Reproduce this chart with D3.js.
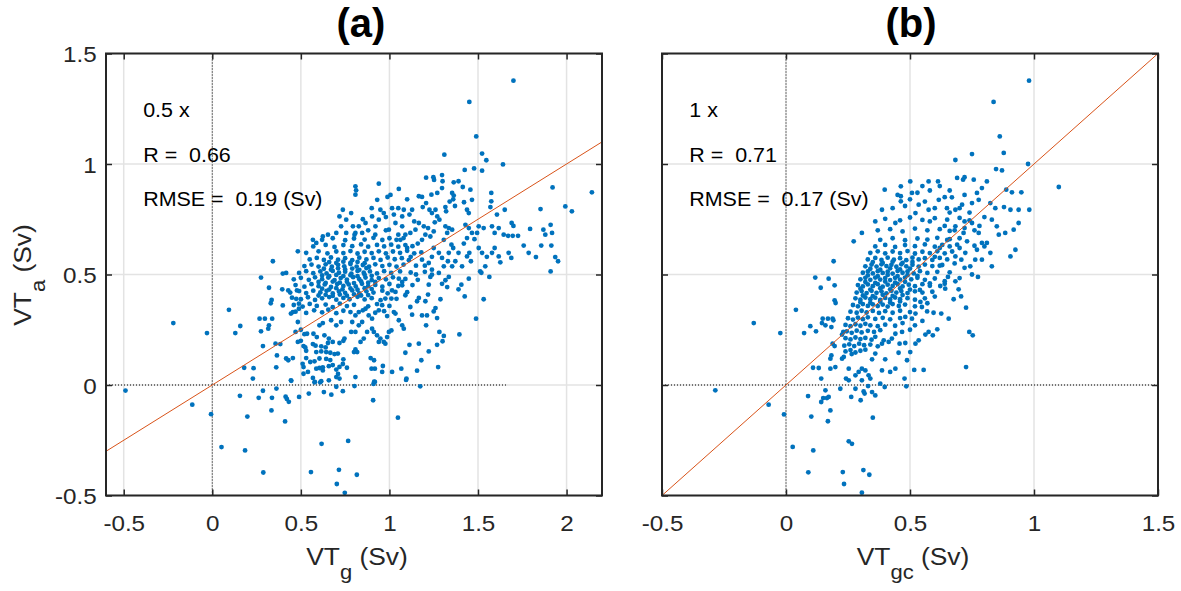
<!DOCTYPE html>
<html><head><meta charset="utf-8">
<script src="https://cdn.jsdelivr.net/npm/d3@7"></script>
<style>body{margin:0;background:#fff}</style>
</head><body><svg id="c" width="1181" height="591"></svg>
<script>
// ---------------- data ----------------
const yTicks = [-0.5, 0, 0.5, 1, 1.5];
const xTicksA = [-0.5, 0, 0.5, 1, 1.5, 2];
const xTicksB = [-0.5, 0, 0.5, 1, 1.5];
const xDomainA = [-0.6, 2.2];
const xDomainB = [-0.5, 1.5];
const yDomain = [-0.5, 1.5];
const fitSlopeA = 0.5;
const fitSlopeB = 1;
const zeroLineExtentA = [-0.6, 1.66];
const zeroLineExtentB = [-0.5, 1.5];
const statsA = ["0.5 x", "R =  0.66", "RMSE =  0.19 (Sv)"];
const statsB = ["1 x", "R =  0.71", "RMSE =  0.17 (Sv)"];
const titles = ["(a)", "(b)"];

// VT_g (x) vs VT_a (y)
const pointsA = [
[-0.49,-0.025],[-0.22,0.28],[-0.03,0.235],[-0.113,-0.089],[-0.007,-0.132],[0.052,-0.281],[0.094,0.34],[0.158,0.267],[0.13,0.235],[0.185,-0.296],[0.198,-0.143],[0.156,-0.049],[0.18,0.078],[0.233,0.076],[0.229,0.029],[0.288,-0.396],[0.262,-0.058],[0.286,-0.026],[0.334,-0.115],[0.337,-0.058],[0.362,-0.016],[0.411,-0.165],[0.414,-0.053],[0.421,-0.063],[0.432,-0.076],[0.49,-0.054],[0.545,-0.039],[0.446,0.019],[0.557,-0.394],[0.617,-0.266],[0.767,-0.253],[0.715,-0.384],[0.703,-0.448],[0.748,-0.488],[0.816,-0.406],[0.63,-0.032],[0.672,-0.044],[0.70,-0.008],[0.737,-0.028],[0.803,-0.005],[0.908,-0.069],[1.048,-0.148],[1.174,-0.006],[1.094,0.023],[0.91,0.005],[0.914,0.015],[0.577,0.012],[0.609,0.012],
[0.275,0.486],[0.32,0.44],[0.335,0.385],[0.33,0.37],[0.267,0.30],[0.297,0.30],[0.338,0.30],[0.32,0.27],[0.316,0.255],[0.275,0.243],[0.286,0.176],[0.357,0.187],[0.384,0.185],[0.365,0.134],[0.361,0.08],[0.417,0.12],[0.429,0.112],[0.455,0.122],[0.444,0.021],[0.398,0.504],[0.395,0.433],[0.429,0.428],[0.398,0.36],[0.444,0.323],[0.455,0.33],[0.478,0.428],[0.474,0.39],[0.489,0.368],[0.489,0.345],[0.483,0.285],[0.47,0.24],[0.50,0.25],[0.52,0.23],[0.535,0.232],[0.483,0.195],[0.50,0.20],[0.515,0.176],[0.525,0.17],[0.53,0.155],[0.51,0.096],[0.515,0.081],[0.54,0.059],[0.515,0.051],[0.579,0.014],[0.615,0.017],[0.658,0.021],[0.70,0.036],[0.718,0.029],[0.568,0.032],[0.587,0.074],[0.605,0.077],[0.624,0.066],[0.53,0.122],[0.553,0.104],[0.577,0.107],[0.587,0.149],[0.615,0.152],[0.643,0.149],[0.666,0.146],[0.69,0.14],[0.709,0.142],[0.624,0.08],[0.658,0.085],[0.68,0.09],[0.718,0.082],[0.737,0.095],[0.76,0.078],[0.605,0.12],[0.643,0.118],[0.666,0.113],[0.568,0.185],[0.583,0.178],[0.615,0.175],[0.64,0.17],[0.653,0.19],[0.68,0.195],[0.718,0.19],[0.74,0.2],[0.746,0.21],[0.74,0.116],[0.70,0.07],[0.71,0.05],[0.80,0.149],[0.808,0.036],[0.784,0.24],[0.727,0.285],[0.70,0.27],[0.671,0.293],[0.624,0.28],[0.605,0.27],[0.571,0.232],[0.59,0.217],[0.633,0.225],[0.658,0.21],
[1.532,0.388],[1.489,0.30],[1.395,0.229],[1.448,0.481],[1.406,0.454],[1.39,0.433],[1.425,0.401],[1.564,0.489],[1.519,0.508],[1.335,0.489],[1.316,0.474],[1.297,0.458],[1.326,0.443],[1.288,0.388],[1.269,0.303],[1.282,0.24],[1.307,0.222],[1.30,0.198],[1.269,0.182],[1.275,0.081],[1.231,0.489],[1.24,0.499],[1.222,0.454],[1.218,0.409],[1.203,0.379],[1.166,0.394],[1.156,0.379],[1.184,0.315],[1.212,0.315],[1.25,0.333],[1.26,0.348],[1.207,0.27],[1.222,0.152],[1.166,0.187],[1.113,0.182],[1.09,0.146],[1.18,0.112],[1.156,0.065],[1.096,0.029],[1.067,0.074],[1.015,0.059],[0.959,0.059],[0.963,0.086],[0.918,0.074],[0.899,0.074],[0.894,0.122],[0.913,0.112],[0.918,0.014],[1.118,0.353],[1.128,0.318],[1.072,0.27],[1.081,0.255],[0.997,0.24],[1.011,0.247],[0.987,0.312],[1.025,0.33],[1.034,0.323],[1.053,0.293],[1.034,0.421],[1.09,0.406],[1.072,0.451],[1.072,0.466],[1.053,0.481],[1.015,0.428],[1.011,0.391],[0.977,0.391],[0.959,0.361],[0.94,0.338],[0.902,0.30],[0.883,0.315],[0.865,0.345],[0.827,0.33],[0.808,0.315],[0.79,0.285],[0.827,0.27],[0.846,0.285],[0.808,0.24],[0.818,0.149],[0.808,0.161],[0.837,0.195],[0.855,0.21],[0.874,0.24],[0.902,0.255],[0.912,0.24],[0.93,0.225],[0.949,0.21],[0.977,0.187],[0.987,0.217],[0.968,0.195],[0.94,0.195],
[1.70,1.377],[1.451,1.281],[1.49,1.125],[1.31,1.042],[1.523,1.047],[1.547,1.017],[1.641,0.998],[1.425,0.973],[1.478,0.98],[1.523,0.97],[1.207,0.938],[1.248,0.94],[1.252,0.928],[1.297,0.95],[1.30,0.922],[1.363,0.917],[1.39,0.922],[1.921,0.894],[2.143,0.872],[1.053,0.887],[0.94,0.911],[0.808,0.899],[0.812,0.881],[0.808,0.861],[1.414,0.896],[1.457,0.884],[1.575,0.869],[1.575,0.831],[1.354,0.869],[1.363,0.857],[1.297,0.891],[1.27,0.869],[1.166,0.854],[1.184,0.851],[1.237,0.861],[0.989,0.851],[1.006,0.86],[0.931,0.838],[1.466,0.838],[1.421,0.827],[1.993,0.808],[2.03,0.786],[1.853,0.796],[1.651,0.793],[1.607,0.771],[1.57,0.805],[1.438,0.793],[1.448,0.778],[1.36,0.84],[1.34,0.83],[1.37,0.81],[1.26,0.793],[1.24,0.778],[1.27,0.763],[1.282,0.748],[1.256,0.736],[1.316,0.805],[1.32,0.786],[1.207,0.823],[1.188,0.805],[1.226,0.793],[1.128,0.793],[1.113,0.771],[1.081,0.793],[1.072,0.763],[1.015,0.80],[1.025,0.771],[0.949,0.793],[0.968,0.778],[0.94,0.748],[0.902,0.763],[0.865,0.733],[0.827,0.718],[0.808,0.688],[0.846,0.688],[0.921,0.718],[0.997,0.703],[1.034,0.733],[1.072,0.718],[1.09,0.68],[1.062,0.657],[1.118,0.688],[1.147,0.703],[1.166,0.733],[1.194,0.718],[1.218,0.71],[1.203,0.68],[1.231,0.672],[1.184,0.657],[1.25,0.695],[1.316,0.718],[1.335,0.71],[1.354,0.703],[1.326,0.688],[1.307,0.657],[1.429,0.725],[1.448,0.71],[1.466,0.688],[1.438,0.665],[1.495,0.688],[1.504,0.718],[1.532,0.71],[1.579,0.718],[1.594,0.688],[1.617,0.71],[1.645,0.68],[1.67,0.675],[1.696,0.675],[1.726,0.675],[1.69,0.733],[1.70,0.72],[1.794,0.706],[1.869,0.703],[1.88,0.68],[1.91,0.725],[1.918,0.688],[1.758,0.631],[1.786,0.598],[1.827,0.579],[1.857,0.631],[1.914,0.631],[1.936,0.579],[1.952,0.56],[1.91,0.514],[1.617,0.582],[1.626,0.555],[1.673,0.598],[1.688,0.575],[1.579,0.598],[1.594,0.62],[1.504,0.62],[1.523,0.598],[1.512,0.514],[1.541,0.537],[1.41,0.537],[1.438,0.582],[1.451,0.598],[1.39,0.598],[1.372,0.56],[1.279,0.598],[1.297,0.575],[1.335,0.598],[1.35,0.635],[1.354,0.537],[1.307,0.537],[1.184,0.567],[1.222,0.552],[1.24,0.522],[1.279,0.507],
[0.737,0.793],[0.718,0.763],[0.756,0.748],[0.784,0.778],[0.794,0.718],[0.727,0.718],[0.70,0.688],[0.756,0.688],[0.803,0.68],[0.568,0.657],[0.587,0.643],[0.624,0.672],[0.653,0.68],[0.483,0.605],[0.342,0.56],[0.417,0.507],
[1.10,0.62],[1.16,0.64],[1.12,0.58],[1.18,0.60],[1.20,0.54],[1.24,0.58],[1.15,0.50],[1.25,0.62],[1.05,0.68],[0.98,0.70],[0.92,0.68],[0.88,0.70],[0.85,0.75],[0.90,0.80],[0.98,0.76],[1.05,0.80],[1.10,0.84],[1.14,0.74],[1.36,0.62],[1.42,0.64],[1.46,0.56],[1.48,0.66],[1.55,0.58],[1.33,0.56],
[0.47,0.332],[0.53,0.326],[0.575,0.338],[0.62,0.329],[0.655,0.341],[0.70,0.325],[0.74,0.336],[0.78,0.33],[0.85,0.338],[0.92,0.327],[0.97,0.334],
[0.46,0.362],[0.51,0.355],[0.55,0.367],[0.59,0.358],[0.64,0.364],[0.68,0.352],[0.72,0.368],[0.76,0.357],[0.80,0.363],[0.88,0.356],[0.93,0.366],[1.0,0.358],
[0.45,0.395],[0.50,0.388],[0.54,0.397],[0.58,0.385],[0.62,0.392],[0.66,0.398],[0.70,0.386],[0.74,0.394],[0.775,0.388],[0.82,0.399],[0.86,0.387],[0.90,0.393],[0.95,0.384],[1.04,0.39],
[0.44,0.418],[0.49,0.425],[0.53,0.416],[0.57,0.427],[0.61,0.419],[0.645,0.426],[0.68,0.414],[0.715,0.423],[0.75,0.417],[0.79,0.428],[0.83,0.415],[0.87,0.424],[0.91,0.418],[0.96,0.427],[0.99,0.415],[1.10,0.42],
[0.47,0.452],[0.52,0.445],[0.56,0.456],[0.60,0.447],[0.635,0.455],[0.67,0.444],[0.705,0.457],[0.74,0.448],[0.77,0.455],[0.81,0.446],[0.845,0.458],[0.88,0.447],[0.92,0.453],[0.96,0.445],[1.0,0.457],[1.05,0.448],[1.13,0.452],
[0.46,0.478],[0.50,0.485],[0.545,0.476],[0.58,0.487],[0.62,0.479],[0.655,0.486],[0.69,0.475],[0.725,0.484],[0.76,0.477],[0.795,0.488],[0.83,0.479],[0.865,0.486],[0.90,0.475],[0.94,0.484],[0.98,0.478],[1.02,0.487],[1.09,0.48],[1.16,0.476],
[0.49,0.507],[0.53,0.515],[0.57,0.506],[0.61,0.514],[0.645,0.505],[0.68,0.516],[0.715,0.508],[0.75,0.513],[0.785,0.504],[0.82,0.516],[0.855,0.508],[0.89,0.514],[0.93,0.505],[0.97,0.515],[1.01,0.507],[1.06,0.514],[1.12,0.509],[1.2,0.512],
[0.52,0.538],[0.56,0.545],[0.60,0.536],[0.64,0.546],[0.675,0.535],[0.71,0.544],[0.745,0.537],[0.78,0.547],[0.815,0.536],[0.85,0.543],[0.885,0.535],[0.92,0.546],[0.96,0.538],[1.0,0.544],[1.04,0.536],[1.08,0.545],[1.15,0.54],
[0.55,0.568],[0.59,0.575],[0.63,0.566],[0.67,0.577],[0.71,0.567],[0.75,0.574],[0.79,0.565],[0.83,0.576],[0.87,0.568],[0.91,0.575],[0.95,0.566],[0.99,0.577],[1.03,0.569],[1.07,0.574],[1.11,0.565],
[0.53,0.598],[0.60,0.605],[0.65,0.596],[0.70,0.604],[0.74,0.597],[0.78,0.606],[0.82,0.595],[0.86,0.603],[0.90,0.597],[0.94,0.605],[0.98,0.596],[1.02,0.604],[1.06,0.598],[1.10,0.607],[1.14,0.596],
[0.57,0.627],[0.64,0.634],[0.69,0.625],[0.74,0.633],[0.79,0.628],[0.84,0.636],[0.88,0.626],[0.93,0.634],[0.97,0.627],[1.01,0.635],[1.05,0.626],[1.09,0.633],[1.13,0.628],
[0.62,0.657],[0.68,0.664],[0.75,0.655],[0.80,0.663],[0.86,0.658],[0.91,0.666],[0.96,0.656],[1.0,0.664],[1.04,0.657],[1.08,0.665],
[0.60,0.405],[0.64,0.408],[0.68,0.403],[0.72,0.409],[0.76,0.404],[0.80,0.41],[0.84,0.405],[0.88,0.407],
[0.62,0.436],[0.66,0.432],[0.70,0.438],[0.735,0.433],[0.78,0.437],[0.82,0.431],[0.86,0.438],[0.90,0.434],
[0.60,0.466],[0.64,0.462],[0.68,0.468],[0.72,0.463],[0.76,0.467],[0.80,0.461],[0.84,0.469],[0.88,0.463],[0.92,0.467],
[0.62,0.496],[0.66,0.492],[0.70,0.498],[0.74,0.493],[0.78,0.497],[0.82,0.492],[0.86,0.499],[0.90,0.494],
[0.63,0.526],[0.67,0.522],[0.71,0.528],[0.75,0.523],[0.79,0.527],[0.83,0.521],[0.87,0.529],
[0.66,0.556],[0.70,0.552],[0.74,0.558],[0.78,0.553],[0.82,0.557],[0.86,0.551]
];

// VT_gc (x) vs VT_a (y)
const pointsB = [
[-0.285,-0.024],[-0.13,0.28],[-0.023,0.235],[-0.07,-0.089],[-0.008,-0.133],[0.04,0.34],[0.027,-0.28],[0.09,-0.395],[0.11,-0.296],[0.102,-0.143],[0.089,-0.05],[0.073,0.235],[0.098,0.266],[0.121,0.243],[0.118,0.486],[0.14,0.44],[0.172,0.481],[0.148,0.30],[0.169,0.30],[0.188,0.30],[0.191,0.293],[0.145,0.28],[0.159,0.27],[0.183,0.262],[0.196,0.383],[0.2,0.371],[0.196,0.451],[0.159,-0.024],[0.165,-0.059],[0.15,-0.059],[0.172,-0.054],[0.169,-0.164],[0.179,-0.115],[0.142,-0.077],[0.109,0.078],[0.132,0.077],[0.142,0.029],[0.188,0.187],[0.196,0.176],[0.183,0.134],[0.179,0.119],[0.199,0.081],[0.179,0.074],[0.219,-0.017],[0.226,0.119],[0.233,0.127],[0.231,0.24],[0.226,0.228],[0.242,0.029],[0.253,0.021],[0.263,-0.054],[0.301,-0.069],[0.317,-0.039],[0.313,-0.029],[0.28,-0.017],[0.347,-0.032],[0.36,-0.047],[0.38,0.006],[0.398,-0.009],[0.331,-0.005],[0.35,-0.148],[0.253,-0.255],[0.266,-0.266],[0.229,-0.394],[0.234,-0.448],[0.312,-0.385],[0.336,-0.406],[0.306,-0.487],[0.478,0.029],[0.485,-0.006],[0.517,0.068],[0.555,0.068],[0.726,0.081],[0.739,0.24],[0.753,0.225],[0.656,0.30],[0.726,0.35],[0.706,0.401],[0.676,0.388],[0.696,0.433],[0.774,0.489],[0.70,0.484],[0.653,0.489],[0.683,0.469],[0.64,0.458],[0.622,0.448],[0.642,0.436],[0.61,0.252],[0.575,0.24],[0.562,0.228],[0.592,0.225],[0.626,0.323],[0.595,0.327],[0.569,0.333],[0.548,0.353],[0.542,0.376],[0.522,0.323],[0.508,0.30],[0.481,0.308],[0.501,0.149],[0.488,0.112],[0.454,0.146],[0.458,0.187],[0.481,0.19],[0.522,0.187],[0.535,0.202],[0.468,0.24],[0.441,0.232],[0.427,0.21],[0.414,0.195],[0.394,0.202],[0.387,0.187],[0.387,0.066],[0.42,0.059],[0.441,0.074],[0.40,0.116],[0.36,0.142],[0.347,0.116],[0.306,0.074],[0.32,0.066],[0.333,0.044],[0.34,0.029],[0.306,0.021],[0.293,0.059],[0.28,0.044],[0.253,0.074],
[0.98,1.377],[0.837,1.281],[0.862,1.125],[0.878,1.05],[0.847,0.977],[0.871,0.971],[0.75,1.045],[0.683,1.018],[0.976,1.0],[1.10,0.896],[0.888,0.884],[0.911,0.872],[0.949,0.872],[0.879,0.805],[0.905,0.793],[0.938,0.793],[0.981,0.793],[0.81,0.921],[0.79,0.891],[0.757,0.929],[0.72,0.94],[0.69,0.937],[0.714,0.929],[0.575,0.921],[0.613,0.921],[0.669,0.849],[0.71,0.816],[0.683,0.793],[0.77,0.869],[0.777,0.838],[0.75,0.823],[0.824,0.823],[0.844,0.80],[0.83,0.748],[0.85,0.718],[0.858,0.68],[0.884,0.688],[0.918,0.703],[0.938,0.733],[0.905,0.582],[0.925,0.612],[0.80,0.627],[0.81,0.643],[0.824,0.598],[0.79,0.567],[0.83,0.537],[0.77,0.612],[0.763,0.567],[0.743,0.537],[0.723,0.598],[0.707,0.567],[0.683,0.582],
[0.398,0.884],[0.463,0.899],[0.463,0.854],[0.463,0.831],[0.501,0.921],[0.508,0.869],[0.273,0.65],[0.192,0.56],[0.306,0.688],[0.36,0.74],[0.387,0.793],[0.441,0.733],[0.522,0.778],[0.535,0.816],[0.575,0.793],[0.616,0.838],[0.649,0.80],[0.683,0.718],[0.716,0.688],[0.75,0.733],[0.777,0.688],[0.79,0.643],
[0.62,0.62],[0.66,0.66],[0.70,0.62],[0.73,0.65],[0.76,0.63],[0.68,0.70],[0.72,0.74],[0.78,0.72],[0.80,0.76],[0.64,0.72],[0.58,0.74],[0.66,0.78],[0.70,0.80],[0.74,0.78],[0.62,0.90],[0.66,0.88],[0.72,0.86],[0.55,0.90],[0.50,0.84],[0.68,0.55],[0.72,0.53],[0.75,0.50],[0.66,0.51],[0.62,0.54],[0.60,0.58],[0.64,0.47],[0.58,0.46],[0.60,0.40],[0.57,0.37],[0.54,0.43],[0.52,0.27],[0.55,0.29],[0.50,0.25],[0.47,0.28],
[0.24,0.152],[0.26,0.158],[0.28,0.147],[0.30,0.155],[0.32,0.16],[0.265,0.14],
[0.235,0.178],[0.255,0.184],[0.275,0.176],[0.295,0.187],[0.315,0.18],[0.34,0.183],[0.37,0.175],
[0.24,0.212],[0.26,0.206],[0.28,0.215],[0.30,0.208],[0.32,0.213],[0.345,0.205],[0.36,0.218],
[0.245,0.243],[0.265,0.236],[0.285,0.246],[0.305,0.238],[0.33,0.245],[0.355,0.24],[0.38,0.248],
[0.24,0.272],[0.26,0.266],[0.28,0.275],[0.30,0.268],[0.32,0.277],[0.34,0.27],[0.37,0.266],[0.40,0.273],[0.44,0.268],
[0.25,0.302],[0.27,0.296],[0.29,0.305],[0.31,0.298],[0.33,0.306],[0.36,0.299],[0.39,0.304],[0.42,0.297],[0.46,0.303],
[0.26,0.332],[0.285,0.327],[0.305,0.336],[0.325,0.328],[0.35,0.335],[0.375,0.326],[0.40,0.334],[0.43,0.327],[0.46,0.336],[0.50,0.33],
[0.27,0.362],[0.29,0.356],[0.31,0.366],[0.33,0.358],[0.35,0.365],[0.37,0.357],[0.39,0.364],[0.41,0.355],[0.43,0.366],[0.455,0.358],[0.48,0.364],[0.52,0.356],
[0.28,0.392],[0.30,0.386],[0.32,0.396],[0.34,0.388],[0.36,0.395],[0.38,0.385],[0.40,0.394],[0.42,0.387],[0.44,0.396],[0.46,0.388],[0.49,0.393],[0.52,0.386],[0.56,0.392],
[0.285,0.418],[0.305,0.425],[0.325,0.416],[0.345,0.426],[0.365,0.417],[0.385,0.424],[0.405,0.415],[0.425,0.426],[0.445,0.418],[0.465,0.425],[0.49,0.416],[0.52,0.424],[0.55,0.418],[0.59,0.422],
[0.29,0.452],[0.31,0.446],[0.33,0.455],[0.35,0.447],[0.37,0.456],[0.39,0.445],[0.41,0.454],[0.43,0.448],[0.45,0.457],[0.47,0.446],[0.495,0.454],[0.52,0.447],[0.55,0.456],[0.58,0.449],
[0.30,0.478],[0.32,0.485],[0.34,0.476],[0.36,0.486],[0.38,0.477],[0.40,0.484],[0.42,0.475],[0.44,0.485],[0.46,0.477],[0.48,0.486],[0.505,0.478],[0.53,0.485],[0.56,0.476],[0.60,0.482],
[0.31,0.508],[0.33,0.514],[0.35,0.505],[0.37,0.515],[0.39,0.507],[0.41,0.513],[0.43,0.504],[0.45,0.516],[0.47,0.508],[0.49,0.514],[0.515,0.505],[0.54,0.515],[0.57,0.507],[0.61,0.512],
[0.32,0.537],[0.345,0.545],[0.365,0.536],[0.385,0.546],[0.405,0.538],[0.425,0.544],[0.445,0.535],[0.465,0.546],[0.485,0.537],[0.51,0.544],[0.535,0.536],[0.56,0.545],[0.59,0.538],[0.63,0.543],
[0.33,0.568],[0.36,0.575],[0.385,0.566],[0.41,0.576],[0.435,0.567],[0.46,0.574],[0.485,0.565],[0.51,0.576],[0.535,0.568],[0.56,0.574],[0.59,0.566],[0.62,0.575],[0.65,0.568],
[0.34,0.598],[0.37,0.605],[0.40,0.596],[0.43,0.604],[0.46,0.597],[0.49,0.606],[0.52,0.595],[0.55,0.603],[0.58,0.597],[0.61,0.605],[0.64,0.596],[0.67,0.604],
[0.36,0.627],[0.40,0.634],[0.44,0.625],[0.48,0.633],[0.52,0.628],[0.56,0.636],[0.60,0.626],[0.63,0.634],[0.66,0.627],[0.69,0.635],
[0.38,0.657],[0.43,0.664],[0.48,0.655],[0.53,0.663],[0.57,0.658],[0.61,0.666],[0.65,0.656],[0.70,0.664],
[0.37,0.70],[0.42,0.705],[0.47,0.695],[0.52,0.708],[0.57,0.70],[0.62,0.705],[0.66,0.697],[0.72,0.71],[0.76,0.70],
[0.40,0.752],[0.46,0.745],[0.50,0.758],[0.55,0.747],[0.60,0.755],[0.65,0.748],[0.70,0.756],[0.74,0.745],
[0.43,0.80],[0.48,0.81],[0.56,0.83],[0.60,0.80],[0.64,0.85],[0.45,0.86],[0.53,0.87],[0.58,0.88],
[0.30,0.375],[0.34,0.372],[0.38,0.377],[0.42,0.373],[0.46,0.378],
[0.31,0.405],[0.35,0.402],[0.39,0.408],[0.43,0.403],[0.47,0.407],
[0.30,0.436],[0.34,0.432],[0.38,0.438],[0.42,0.433],[0.46,0.437],[0.50,0.432],
[0.32,0.466],[0.36,0.462],[0.40,0.468],[0.44,0.463],[0.48,0.467],
[0.33,0.496],[0.37,0.492],[0.41,0.498],[0.45,0.493],[0.49,0.497],[0.53,0.494],
[0.34,0.526],[0.38,0.522],[0.42,0.528],[0.46,0.523],[0.50,0.527],
[0.35,0.556],[0.39,0.552],[0.43,0.558],[0.47,0.553],[0.51,0.557]
];

// ---------------- layout ----------------
const FONT = '"Liberation Sans", Arial, Helvetica, sans-serif';
const SX = 1.1; // horizontal text stretch
const TOP = 53.5, BOTTOM = 495.5;
const AXIS_COLOR = "#262626";
const DOT_COLOR = "#0072BD";
const FIT_COLOR = "#D95319";
const GRID_COLOR = "#e3e3e3";
const svg = d3.select("#c");

function drawPanel(cfg) {
  const x = d3.scaleLinear().domain(cfg.xDomain).range(cfg.xRange);
  const y = d3.scaleLinear().domain(yDomain).range([BOTTOM, TOP]);
  const g = svg.append("g");
  const [L, R] = cfg.xRange;

  g.selectAll("line.gx").data(cfg.xTicks).join("line").attr("class","gx")
    .attr("x1", d => x(d)).attr("x2", d => x(d)).attr("y1", TOP).attr("y2", BOTTOM)
    .attr("stroke", GRID_COLOR).attr("stroke-width", 1.5);
  g.selectAll("line.gy").data(yTicks).join("line").attr("class","gy")
    .attr("x1", L).attr("x2", R).attr("y1", d => y(d)).attr("y2", d => y(d))
    .attr("stroke", GRID_COLOR).attr("stroke-width", 1.5);

  g.append("line").attr("x1", x(cfg.zeroExtent[0])).attr("x2", x(cfg.zeroExtent[1]))
    .attr("y1", y(0)).attr("y2", y(0))
    .attr("stroke", "#000").attr("stroke-width", 1).attr("stroke-dasharray", "1,2");
  g.append("line").attr("x1", x(0)).attr("x2", x(0)).attr("y1", TOP).attr("y2", BOTTOM)
    .attr("stroke", "#000").attr("stroke-width", 1).attr("stroke-dasharray", "1,2");

  g.append("g").selectAll("circle").data(cfg.points).join("circle")
    .attr("cx", d => x(d[0])).attr("cy", d => y(d[1])).attr("r", 2.4)
    .attr("fill", DOT_COLOR);

  const xd = cfg.xDomain;
  g.append("line").attr("x1", x(xd[0])).attr("y1", y(cfg.slope * xd[0]))
    .attr("x2", x(xd[1])).attr("y2", y(cfg.slope * xd[1]))
    .attr("stroke", FIT_COLOR).attr("stroke-width", 1);

  const styleAxis = (a) => {
    a.attr("font-family", FONT).attr("font-size", 22);
    a.select(".domain").remove();
    a.selectAll(".tick line").attr("stroke", AXIS_COLOR).attr("stroke-width", 1.5);
  };
  const ab = g.append("g").attr("transform", `translate(0,${BOTTOM})`)
    .call(d3.axisBottom(x).tickValues(cfg.xTicks).tickSize(-6).tickFormat(d => String(d)));
  styleAxis(ab);
  ab.selectAll(".tick text").attr("y", 35.5).attr("dy", null).attr("fill", AXIS_COLOR)
    .attr("transform", `scale(${SX},1)`);
  const at = g.append("g").attr("transform", `translate(0,${TOP})`)
    .call(d3.axisTop(x).tickValues(cfg.xTicks).tickSize(-6).tickFormat(""));
  styleAxis(at);
  const al = g.append("g").attr("transform", `translate(${L},0)`)
    .call(d3.axisLeft(y).tickValues(yTicks).tickSize(-6).tickFormat(cfg.yLabels ? (d => String(d)) : ""));
  styleAxis(al);
  al.selectAll(".tick text").attr("x", -8.5).attr("dy", 8).attr("fill", AXIS_COLOR)
    .attr("transform", `scale(${SX},1)`);
  const ar = g.append("g").attr("transform", `translate(${R},0)`)
    .call(d3.axisRight(y).tickValues(yTicks).tickSize(-6).tickFormat(""));
  styleAxis(ar);

  g.append("rect").attr("x", L).attr("y", TOP).attr("width", R - L).attr("height", BOTTOM - TOP)
    .attr("fill", "none").attr("stroke", AXIS_COLOR).attr("stroke-width", 2);

  const annY = [1.213, 1.009, 0.81];
  cfg.stats.forEach((s, i) => {
    g.append("text").attr("transform", `translate(${x(-0.39)},${y(annY[i])}) scale(${SX},1)`)
      .attr("font-family", FONT).attr("font-size", 19.5).attr("fill", "#000")
      .style("white-space", "pre").text(s);
  });

  g.append("text").attr("x", cfg.titleX).attr("y", 37).attr("text-anchor", "middle")
    .attr("font-family", FONT).attr("font-size", 40).attr("font-weight", "bold")
    .attr("fill", "#000").text(cfg.title);

  const xl = g.append("text").attr("transform", `translate(${(L + R) / 2 + 3},565) scale(${SX},1)`)
    .attr("text-anchor", "middle").attr("font-family", FONT).attr("font-size", 24)
    .attr("fill", AXIS_COLOR).style("white-space", "pre");
  xl.append("tspan").text("VT");
  xl.append("tspan").attr("font-size", 20).attr("dy", 14).text(cfg.xSub);
  xl.append("tspan").attr("dy", -14).text(" (Sv)");
}

drawPanel({xDomain: xDomainA, xRange: [106, 602], xTicks: xTicksA, points: pointsA,
  slope: fitSlopeA, stats: statsA, title: titles[0], titleX: 361, xSub: "g",
  yLabels: true, zeroExtent: zeroLineExtentA});
drawPanel({xDomain: xDomainB, xRange: [662, 1158], xTicks: xTicksB, points: pointsB,
  slope: fitSlopeB, stats: statsB, title: titles[1], titleX: 911, xSub: "gc",
  yLabels: false, zeroExtent: zeroLineExtentB});

const yl = svg.append("text").attr("transform", `translate(31,275) rotate(-90) scale(${SX},1)`)
  .attr("text-anchor", "middle").attr("font-family", FONT).attr("font-size", 24)
  .attr("fill", AXIS_COLOR).style("white-space", "pre");
yl.append("tspan").text("VT");
yl.append("tspan").attr("font-size", 20).attr("dy", 14).text("a");
yl.append("tspan").attr("dy", -14).text(" (Sv)");
</script>
</body></html>
